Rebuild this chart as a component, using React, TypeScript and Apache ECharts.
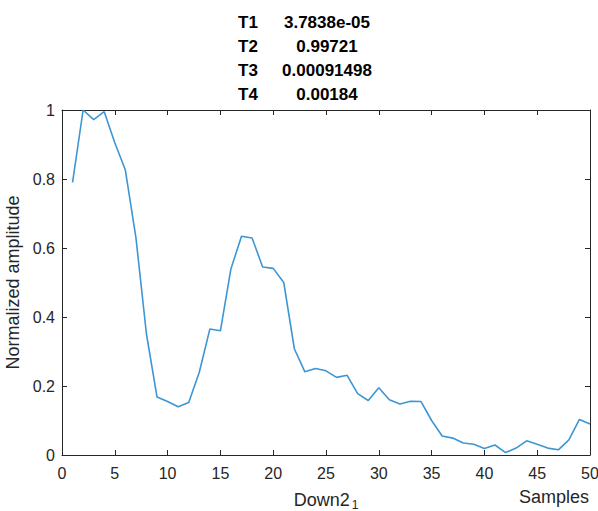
import React, { useEffect, useRef } from "react";
import * as echarts from "echarts";

const samples: number[] = Array.from({ length: 50 }, (_, i) => i + 1);
const amplitude: number[] = [
  0.79, 1.0, 0.972, 0.995, 0.905, 0.826, 0.63, 0.35, 0.168, 0.155,
  0.14, 0.152, 0.24, 0.365, 0.36, 0.54, 0.634, 0.629, 0.545, 0.541,
  0.5, 0.308, 0.241, 0.251, 0.244, 0.225, 0.231, 0.178, 0.158, 0.195,
  0.16, 0.148, 0.156, 0.155, 0.1, 0.055, 0.049, 0.035, 0.031, 0.019,
  0.029, 0.007, 0.02, 0.041, 0.031, 0.02, 0.015, 0.044, 0.103, 0.09,
];
const paramNames: string[] = ["T1", "T2", "T3", "T4"];
const paramValues: string[] = ["3.7838e-05", "0.99721", "0.00091498", "0.00184"];

const AXIS_COLOR = "#262626";
const FONT = "Liberation Sans, Arial, sans-serif";

export default function App() {
  const ref = useRef<HTMLDivElement>(null);
  useEffect(() => {
    if (!ref.current) return;
    const chart = echarts.init(ref.current, undefined, { renderer: "svg" });
    const lineYs = [22, 46, 70, 94];
    const graphics: any[] = [];
    paramNames.forEach((n, i) => {
      graphics.push({
        type: "text",
        x: 238,
        y: lineYs[i],
        style: { text: n, font: `bold 17px ${FONT}`, fill: "#000", textAlign: "left", textVerticalAlign: "middle" },
      });
      graphics.push({
        type: "text",
        x: 327,
        y: lineYs[i],
        style: { text: paramValues[i], font: `bold 17px ${FONT}`, fill: "#000", textAlign: "center", textVerticalAlign: "middle" },
      });
    });
    graphics.push({
      type: "text",
      x: 589,
      y: 497,
      style: { text: "Samples", font: `18px ${FONT}`, fill: AXIS_COLOR, textAlign: "right", textVerticalAlign: "middle" },
    });
    const axisCommon = {
      axisLine: { show: true, onZero: false, lineStyle: { color: AXIS_COLOR, width: 1 } },
      axisTick: { show: true, inside: true, length: 5, lineStyle: { color: AXIS_COLOR } },
      splitLine: { show: false },
    };
    chart.setOption({
      animation: false,
      grid: { left: 62, right: 8, top: 110, bottom: 56, containLabel: false, outerBoundsMode: "none" },
      xAxis: [
        {
          type: "value",
          min: 0,
          max: 50,
          interval: 5,
          position: "bottom",
          ...axisCommon,
          axisLabel: { color: AXIS_COLOR, fontSize: 16, fontFamily: FONT, margin: 10 },
          name: "{a|Down2}{s|1}",
          nameLocation: "middle",
          nameGap: 34,
          nameTextStyle: {
            color: AXIS_COLOR,
            rich: {
              a: { fontSize: 18, fontFamily: FONT, color: AXIS_COLOR },
              s: { fontSize: 12, fontFamily: FONT, color: AXIS_COLOR, padding: [10, 0, 0, 2] },
            },
          },
        },
        {
          type: "value",
          min: 0,
          max: 50,
          interval: 5,
          position: "top",
          ...axisCommon,
          axisLabel: { show: false },
        },
      ],
      yAxis: [
        {
          type: "value",
          min: 0,
          max: 1,
          interval: 0.2,
          position: "left",
          ...axisCommon,
          axisLabel: {
            color: AXIS_COLOR,
            fontSize: 16,
            fontFamily: FONT,
            margin: 7,
            formatter: (v: number) => (v === 0 || v === 1 ? String(v) : v.toFixed(1)),
          },
          name: "Normalized amplitude",
          nameLocation: "middle",
          nameGap: 36,
          nameTextStyle: { color: AXIS_COLOR, fontSize: 18, fontFamily: FONT },
        },
        {
          type: "value",
          min: 0,
          max: 1,
          interval: 0.2,
          position: "right",
          ...axisCommon,
          axisLabel: { show: false },
        },
      ],
      graphic: graphics,
      series: [
        {
          type: "line",
          data: samples.map((s, i) => [s, amplitude[i]]),
          showSymbol: false,
          symbol: "none",
          lineStyle: { color: "#3d96d4", width: 1.6 },
          xAxisIndex: 0,
          yAxisIndex: 0,
        },
      ],
    });
    return () => chart.dispose();
  }, []);
  return (
    <div
      ref={ref}
      style={{ position: "fixed", left: 0, top: 0, width: 598, height: 511, background: "#fff" }}
    />
  );
}
